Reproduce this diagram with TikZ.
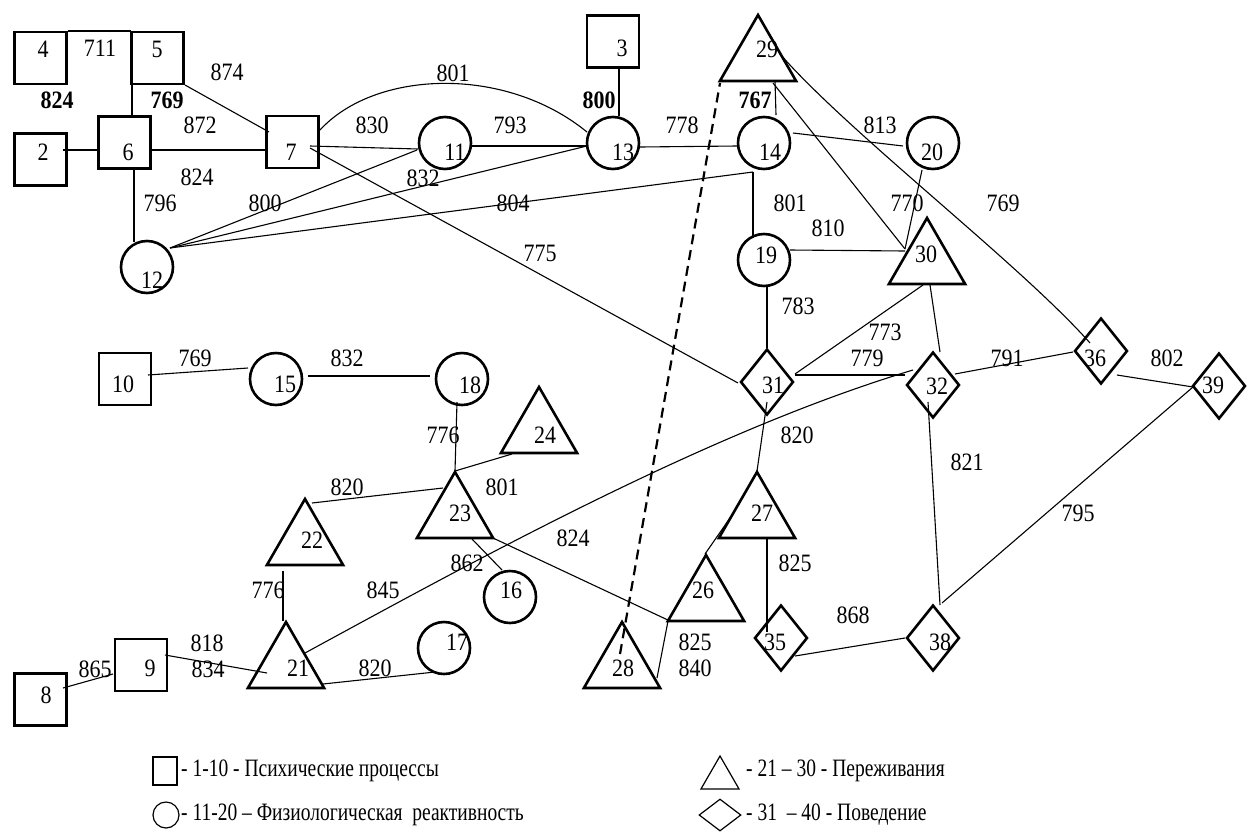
\documentclass[tikz,border=0pt]{standalone}
\usepackage{fontspec}
\setmainfont{Liberation Serif}[FakeStretch=0.88]
\newfontfamily\legfont{Liberation Serif}[FakeStretch=0.78]
\usetikzlibrary{shapes.geometric,calc}
\begin{document}
\begin{tikzpicture}[x=1pt,y=-1pt,
  sq/.style={draw,line width=2.6pt,minimum size=52pt,inner sep=0pt},
  ci/.style={circle,draw,line width=2.6pt,minimum size=52pt,inner sep=0pt},
  tr/.style={regular polygon,regular polygon sides=3,draw,line width=2.6pt,minimum size=88pt,inner sep=0pt},
  di/.style={diamond,draw,line width=2.6pt,minimum width=53pt,minimum height=66pt,inner sep=0pt},
  num/.style={font=\fontsize{25}{25}\selectfont,inner sep=0pt},
  bnum/.style={font=\fontsize{25}{25}\selectfont\bfseries,inner sep=0pt},
  ed/.style={line width=1.1pt},
  dsh/.style={line width=2.2pt,dash pattern=on 10pt off 6pt},
  legtext/.style={font=\legfont\fontsize{25}{25}\selectfont,inner sep=0pt,anchor=west},
]
\useasboundingbox (0,0) rectangle (1247,833);
% squares
\node[sq] (n4) at (40.5,58) {};
\node[sq] (n5) at (157.5,58) {};
\node[sq] (n2) at (40.5,159.5) {};
\node[sq] (n6) at (124.5,142.5) {};
\node[sq] (n7) at (292.5,142) {};
\node[sq] (n3) at (613,41.5) {};
\node[sq] (n10) at (125,379) {};
\node[sq] (n9) at (141,665) {};
\node[sq] (n8) at (40.5,699.5) {};
% circles
\node[ci] (n11) at (445,143) {};
\node[ci] (n13) at (613,143) {};
\node[ci] (n14) at (764,143) {};
\node[ci] (n20) at (933,143) {};
\node[ci] (n12) at (147,267) {};
\node[ci] (n19) at (764,260) {};
\node[ci] (n15) at (276,379) {};
\node[ci] (n18) at (462,379) {};
\node[ci] (n16) at (510,597) {};
\node[ci] (n17) at (444,648) {};
% triangles
\node[tr] (n29) at (758,59) {};
\node[tr] (n30) at (927,262) {};
\node[tr] (n22) at (305,543) {};
\node[tr] (n21) at (286,666) {};
\node[tr] (n23) at (455,516) {};
\node[tr] (n24) at (539,431) {};
\node[tr] (n27) at (757,516) {};
\node[tr] (n26) at (706,599) {};
\node[tr] (n28) at (622,666) {};
% diamonds
\node[di] (n31) at (767,382) {};
\node[di] (n32) at (933,385) {};
\node[di] (n36) at (1101,351) {};
\node[di] (n39) at (1219,386) {};
\node[di] (n38) at (933,638) {};
\node[di] (n35) at (781,638) {};
% numbers in shapes
\node[num] (t4) at (43,49) {4};
\node[num] (t5) at (157,49) {5};
\node[num] (t2) at (43,152) {2};
\node[num] (t6) at (128,152) {6};
\node[num] (t7) at (291,152) {7};
\node[num] (t3) at (622,48) {3};
\node[num] (t10) at (123,384) {10};
\node[num] (t9) at (150,668) {9};
\node[num] (t8) at (46,695) {8};
\node[num] (t11) at (455,152) {11};
\node[num] (t13) at (623,152) {13};
\node[num] (t14) at (770,152) {14};
\node[num] (t20) at (932,152) {20};
\node[num] (t12) at (152,280) {12};
\node[num] (t19) at (766,255) {19};
\node[num] (t15) at (285,384) {15};
\node[num] (t18) at (470,385) {18};
\node[num] (t16) at (511,590) {16};
\node[num] (t17) at (457,642) {17};
\node[num] (t29) at (767,49) {29};
\node[num] (t30) at (926,254) {30};
\node[num] (t22) at (312,540) {22};
\node[num] (t21) at (298,668) {21};
\node[num] (t23) at (460,513) {23};
\node[num] (t24) at (545,435) {24};
\node[num] (t27) at (762,513) {27};
\node[num] (t26) at (703,590) {26};
\node[num] (t28) at (623,668) {28};
\node[num] (t31) at (773,385) {31};
\node[num] (t32) at (937,386) {32};
\node[num] (t36) at (1095,358) {36};
\node[num] (t39) at (1213,385) {39};
\node[num] (t38) at (940,642) {38};
\node[num] (t35) at (775,642) {35};
% connectors
\draw[ed] ($(n4)+(27,-27)$) -- ($(n5)+(-27,-27)$);
\draw[ed] ($(n5)+(-25.5,27)$) -- ($(n6)+(7.5,-27.5)$);
\draw[ed] ($(n5)+(27.5,27)$) -- ($(n7)+(-23.5,-10)$);
\draw[ed] ($(n6)+(27.5,7.5)$) -- ($(n7)+(-26.5,8)$);
\draw[ed] ($(n2)+(22.5,-9.5)$) -- ($(n6)+(-27.5,7.5)$);
\draw[ed] ($(n6)+(9.5,27.5)$) -- ($(n12)+(-13,-25)$);
\draw[ed] ($(n12)+(23,-19)$) -- ($(n11)+(-28,7)$);
\draw[ed] ($(n12)+(23,-19)$) -- ($(n13)+(-26,3)$);
\draw[ed] ($(n12)+(23,-19)$) -- ($(n14)+(-11,29)$);
\draw[ed] ($(n7)+(27.5,-12)$) .. controls +(55,-60) and +(-82,-67) .. ($(n13)+(-26,-11)$);
\draw[ed] ($(n7)+(17.5,4)$) -- ($(n11)+(-27,6)$);
\draw[ed] ($(n11)+(27,3)$) -- ($(n13)+(-26,3)$);
\draw[ed] ($(n7)+(17.5,6)$) -- ($(n31)+(-29,1)$);
\draw[ed] ($(n3)+(6,27.5)$) -- ($(n13)+(6,-27)$);
\draw[ed] ($(n13)+(27,4)$) -- ($(n14)+(-27,3)$);
\draw[ed] ($(n29)+(17,22)$) -- ($(n14)+(12,-28)$);
\draw[ed] ($(n29)+(15,24)$) -- ($(n30)+(-22,-13)$);
\draw[ed] ($(n29)+(22,-5)$) .. controls +(70,80) and +(-70,-79) .. ($(n36)+(-11,-8)$);
\draw[ed] ($(n14)+(29,-10)$) -- ($(n20)+(-30,3)$);
\draw[ed] ($(n14)+(-11,29)$) -- ($(n19)+(-11,-22)$);
\draw[ed] ($(n19)+(26,-10)$) -- ($(n30)+(-22,-11)$);
\draw[ed] ($(n20)+(-11,27)$) -- ($(n30)+(-22,-13)$);
\draw[ed] ($(n19)+(3,27)$) -- ($(n31)+(0,-34)$);
\draw[ed] ($(n30)+(-4,23)$) -- ($(n31)+(28,-8)$);
\draw[ed] ($(n31)+(28,-7)$) -- ($(n32)+(-28,-10)$);
\draw[ed] ($(n30)+(3,23)$) -- ($(n32)+(7,-33)$);
\draw[ed] ($(n32)+(22,-11)$) -- ($(n36)+(-28,1)$);
\draw[ed] ($(n36)+(16,24)$) -- ($(n39)+(-26,1)$);
\draw[ed] ($(n39)+(-26,1)$) -- ($(n38)+(9,-35)$);
\draw[ed] ($(n32)+(-5,17)$) -- ($(n38)+(7,-33)$);
\draw[ed] ($(n35)+(14,18)$) -- ($(n38)+(-28,0)$);
\draw[ed] ($(n27)+(10,22)$) -- ($(n35)+(-14,-6)$);
\draw[ed] ($(n31)+(0,20)$) -- ($(n27)+(0,-45)$);
\draw[ed] ($(n32)+(-20,-15)$) .. controls +(-200,60) and +(180,-98) .. ($(n21)+(19,-13)$);
\draw[ed] ($(n18)+(-5,23)$) -- ($(n23)+(0,-45)$);
\draw[ed] ($(n23)+(0,-45)$) -- ($(n24)+(-27,23)$);
\draw[ed] ($(n22)+(7,-40)$) -- ($(n23)+(-12,-28)$);
\draw[ed] ($(n22)+(-22,28)$) -- ($(n21)+(-3,-45)$);
\draw[ed] ($(n15)+(32,-3)$) -- ($(n18)+(-32,-3)$);
\draw[ed] ($(n10)+(23,-4)$) -- ($(n15)+(-28,-11)$);
\draw[ed] ($(n9)+(24,-10)$) -- ($(n21)+(-19,7)$);
\draw[ed] ($(n8)+(22.5,-11.5)$) -- ($(n9)+(-28,9)$);
\draw[ed] ($(n21)+(37,18)$) -- ($(n17)+(-9,24)$);
\draw[ed] ($(n26)+(-1,-45)$) -- ($(n27)+(-27,2)$);
\draw[ed] ($(n26)+(-38,22)$) -- ($(n28)+(35,12)$);
\draw[ed] ($(n23)+(38,22)$) -- ($(n26)+(-36,22)$);
\draw[ed] ($(n23)+(17,23)$) -- ($(n16)+(-8,-27)$);
\draw[dsh] ($(n28)+(-2,-12)$) -- ($(n29)+(-38,24)$);
% connector labels
\node[num] (e1) at (100,48) {711};
\node[bnum] (e2) at (57,100) {824};
\node[bnum] (e3) at (167,100) {769};
\node[num] (e4) at (227,72) {874};
\node[num] (e5) at (200,125) {872};
\node[num] (e6) at (197,177) {824};
\node[num] (e7) at (160,203) {796};
\node[num] (e8) at (265,203) {800};
\node[num] (e9) at (372,125) {830};
\node[num] (e10) at (453,73) {801};
\node[num] (e11) at (510,125) {793};
\node[num] (e12) at (423,178) {832};
\node[num] (e13) at (513,203) {804};
\node[num] (e14) at (540,253) {775};
\node[bnum] (e15) at (599,100) {800};
\node[num] (e16) at (682,125) {778};
\node[bnum] (e17) at (755,100) {767};
\node[num] (e18) at (880,125) {813};
\node[num] (e19) at (790,203) {801};
\node[num] (e20) at (907,203) {770};
\node[num] (e21) at (828,228) {810};
\node[num] (e22) at (1003,203) {769};
\node[num] (e23) at (798,306) {783};
\node[num] (e24) at (885,332) {773};
\node[num] (e25) at (867,358) {779};
\node[num] (e26) at (1007,358) {791};
\node[num] (e27) at (1167,358) {802};
\node[num] (e28) at (797,435) {820};
\node[num] (e29) at (967,462) {821};
\node[num] (e30) at (1078,513) {795};
\node[num] (e31) at (795,563) {825};
\node[num] (e32) at (853,615) {868};
\node[num] (e33) at (195,358) {769};
\node[num] (e34) at (347,358) {832};
\node[num] (e35) at (443,435) {776};
\node[num] (e36) at (502,487) {801};
\node[num] (e37) at (347,487) {820};
\node[num] (e38) at (573,538) {824};
\node[num] (e39) at (467,563) {862};
\node[num] (e40) at (268,590) {776};
\node[num] (e41) at (383,590) {845};
\node[num] (e42) at (207,643) {818};
\node[num] (e43) at (208,669) {834};
\node[num] (e44) at (95,669) {865};
\node[num] (e45) at (375,668) {820};
\node[num] (e46) at (695,642) {825};
\node[num] (e47) at (695,668) {840};
% legend
\node[draw,line width=1.2pt,minimum width=24pt,minimum height=28pt,inner sep=0pt] (lsq) at (165,771) {};
\node[legtext] (lt1) at (181,771) {- 1-10 - Психические процессы};
\node[circle,draw,line width=1.2pt,minimum size=26pt,inner sep=0pt] (lci) at (166,815) {};
\node[legtext] (lt2) at (181,815) {- 11-20 – Физиологическая\ \ реактивность};
\node[regular polygon,regular polygon sides=3,draw,line width=1.2pt,minimum size=44pt,inner sep=0pt] (ltr) at (720,778) {};
\node[legtext] (lt3) at (746,771) {- 21 – 30 - Переживания};
\node[diamond,draw,line width=1.2pt,minimum width=42pt,minimum height=32pt,inner sep=0pt] (ldi) at (720,815) {};
\node[legtext] (lt4) at (746,815) {- 31\ \ – 40 - Поведение};
\end{tikzpicture}
\end{document}
